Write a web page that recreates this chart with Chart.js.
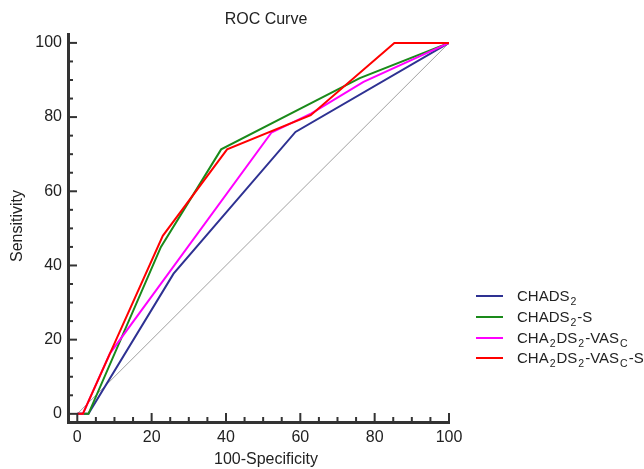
<!DOCTYPE html>
<html><head><meta charset="utf-8">
<script src="https://cdn.jsdelivr.net/npm/chart.js@4.4.0/dist/chart.umd.min.js"></script>
<style>
body{margin:0;background:#fff;}
#wrap{position:relative;width:644px;height:469px;font-family:"Liberation Sans",Arial,sans-serif;}
#legend{position:absolute;left:476px;top:0;}
.row{position:absolute;left:0;white-space:nowrap;display:flex;align-items:center;height:20px;}
.sw{width:27px;height:2px;margin-right:14px;}
.lbl{font-size:15px;color:#222;line-height:20px;}
.lbl sub{font-size:10.5px;vertical-align:-4px;line-height:0;padding:0 1px;}
</style></head><body>
<div id="wrap"><canvas id="c" width="644" height="469"></canvas><div id="legend"></div></div>
<script>
const chartTitle = 'ROC Curve';
const xTitle = '100-Specificity';
const yTitle = 'Sensitivity';
const seriesNames = ['CHADS<sub>2</sub>', 'CHADS<sub>2</sub>-S', 'CHA<sub>2</sub>DS<sub>2</sub>-VAS<sub>C</sub>', 'CHA<sub>2</sub>DS<sub>2</sub>-VAS<sub>C</sub>-S'];
const seriesColors = ['#2e3192', '#1a8a1a', '#ff00ff', '#ff0000'];
const chads2X = [0, 3, 25.9, 58.7, 100];
const chads2Y = [0, 0, 37.8, 76, 100];
const chads2sX = [0, 3, 22.5, 38.7, 76, 100];
const chads2sY = [0, 0, 45, 71.3, 90.5, 100];
const vascX = [0, 1.5, 8.8, 52.2, 63, 77, 100];
const vascY = [0, 0, 16.3, 75.8, 81, 89.5, 100];
const vascSX = [0, 1.5, 23, 40.3, 62.8, 85.3, 100];
const vascSY = [0, 0, 48, 71.3, 80.5, 100, 100];
const refX = [0, 100];
const refY = [0, 100];
const tickValues = [0, 20, 40, 60, 80, 100];
const minorStep = 5;

const FONT = '"Liberation Sans", Arial, sans-serif';
const TXT = '#222';
const AXIS = '#333';

function pts(xs, ys) { return xs.map((x, i) => ({x: x, y: ys[i]})); }

const seriesX = [chads2X, chads2sX, vascX, vascSX];
const seriesY = [chads2Y, chads2sY, vascY, vascSY];

const datasets = seriesX.map((xs, i) => ({
  label: seriesNames[i].replace(/<[^>]+>/g, ''),
  data: pts(xs, seriesY[i]),
  borderColor: seriesColors[i],
  borderWidth: 2,
  pointRadius: 0,
  tension: 0,
  fill: false,
  order: 3 - i
}));
datasets.push({label: 'ref', data: pts(refX, refY), borderColor: '#a0a0a0', borderWidth: 1, pointRadius: 0, tension: 0, fill: false, order: 5});

const decor = {
  id: 'decor',
  afterDraw(chart) {
    const ctx = chart.ctx, xs = chart.scales.x, ys = chart.scales.y, a = chart.chartArea;
    ctx.save();
    ctx.strokeStyle = AXIS;
    ctx.lineWidth = 2;
    const minors = [];
    for (let v = 0; v <= 100; v += minorStep) minors.push(v);
    minors.forEach(v => {
      const major = tickValues.includes(v);
      const len = major ? 9 : 5;
      const px = xs.getPixelForValue(v);
      ctx.beginPath(); ctx.moveTo(px, a.bottom); ctx.lineTo(px, a.bottom - len); ctx.stroke();
      const py = ys.getPixelForValue(v);
      ctx.beginPath(); ctx.moveTo(a.left, py); ctx.lineTo(a.left + len, py); ctx.stroke();
    });
    ctx.fillStyle = TXT;
    ctx.font = '16px ' + FONT;
    ctx.textAlign = 'center';
    ctx.textBaseline = 'middle';
    ctx.fillText(chartTitle, 266, 20);
    ctx.fillText(xTitle, 266, 460);
    ctx.translate(18, 226);
    ctx.rotate(-Math.PI / 2);
    ctx.fillText(yTitle, 0, 0);
    ctx.restore();
  }
};

const tickFont = {size: 16, family: FONT};
new Chart(document.getElementById('c'), {
  type: 'line',
  data: {datasets: datasets},
  options: {
    responsive: false,
    animation: false,
    layout: {padding: {top: 34, right: 195, left: 0, bottom: 0}},
    plugins: {legend: {display: false}, tooltip: {enabled: false}, title: {display: false}},
    scales: {
      x: {
        type: 'linear', min: -2.5, max: 100,
        afterBuildTicks: s => { s.ticks = tickValues.map(v => ({value: v})); },
        afterFit: s => { s.height = 47; },
        grid: {display: true, drawOnChartArea: false, drawTicks: false, color: 'rgba(0,0,0,0)'},
        border: {display: true, width: 3, color: AXIS},
        ticks: {padding: 6, font: tickFont, color: TXT, maxRotation: 0, autoSkip: false}
      },
      y: {
        type: 'linear', min: -2.2, max: 102.4,
        afterBuildTicks: s => { s.ticks = tickValues.map(v => ({value: v})); },
        afterFit: s => { s.width = 68; },
        grid: {display: true, drawOnChartArea: false, drawTicks: false, color: 'rgba(0,0,0,0)'},
        border: {display: true, width: 3, color: AXIS},
        ticks: {padding: 6, font: tickFont, color: TXT, autoSkip: false}
      }
    }
  },
  plugins: [decor]
});

const legendTops = [296, 317, 338, 358];
const leg = document.getElementById('legend');
seriesNames.forEach((n, i) => {
  const r = document.createElement('div');
  r.className = 'row';
  r.style.top = (legendTops[i] - 10) + 'px';
  r.innerHTML = '<div class="sw" style="background:' + seriesColors[i] + '"></div><div class="lbl">' + n + '</div>';
  leg.appendChild(r);
});
</script>
</body></html>
